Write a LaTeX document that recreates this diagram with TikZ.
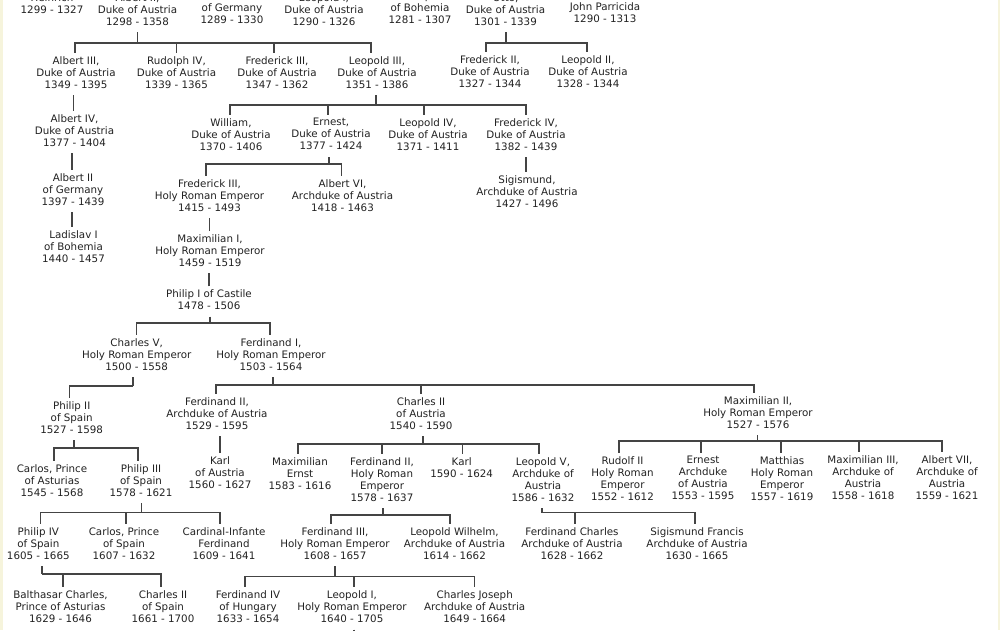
\documentclass[tikz,border=0pt]{standalone}
\usepackage{fontspec}
\setmainfont{DejaVu Sans}
\usepackage{xcolor}
\usepackage{tikz}
\definecolor{inkgray}{HTML}{222222}
\definecolor{linegray}{HTML}{444444}
\definecolor{edgecream}{HTML}{F6F4DC}

\begin{document}
\begin{tikzpicture}[x=1pt,y=-1pt,
  person/.style={align=center, font=\fontsize{10.3}{12}\selectfont, text=inkgray,
    inner xsep=0pt, inner ysep=0pt, outer ysep=3.5pt,
    execute at begin node=\strut, execute at end node=\strut},
  link/.style={draw=linegray, line width=1.1pt}]
\useasboundingbox (0,0) rectangle (1000,630);
\clip (0,0) rectangle (1000,630);
\fill[white] (0,0) rectangle (1000,630);
\fill[edgecream] (0,0) rectangle (2.5,630);
\fill[edgecream] (997.5,0) rectangle (1000,630);

% first generation (cut at the top)
\node[person] (heinrich) at (52,5) {Heinrich\\1299 - 1327};
\node[person] (albII) at (137.5,11) {Albert II,\\Duke of Austria\\1298 - 1358};
\node[person] (fredG) at (232,9) {Frederick I\\of Germany\\1289 - 1330};
\node[person] (leoI) at (324,11) {Leopold I,\\Duke of Austria\\1290 - 1326};
\node[person] (rudI) at (420,9) {Rudolph I\\of Bohemia\\1281 - 1307};
\node[person] (otto) at (505.5,11) {Otto,\\Duke of Austria\\1301 - 1339};
\node[person] (john) at (605,14) {John Parricida\\1290 - 1313};

% dukes
\node[person] (albIII) at (76,74) {Albert III,\\Duke of Austria\\1349 - 1395};
\node[person] (rudIV) at (176.5,74) {Rudolph IV,\\Duke of Austria\\1339 - 1365};
\node[person] (fredIII) at (277,74) {Frederick III,\\Duke of Austria\\1347 - 1362};
\node[person] (leoIII) at (377,74) {Leopold III,\\Duke of Austria\\1351 - 1386};
\node[person] (fredII) at (490,73) {Frederick II,\\Duke of Austria\\1327 - 1344};
\node[person] (leoII) at (588,73) {Leopold II,\\Duke of Austria\\1328 - 1344};
\node[person] (albIV) at (74.5,132) {Albert IV,\\Duke of Austria\\1377 - 1404};
\node[person] (william) at (231,136) {William,\\Duke of Austria\\1370 - 1406};
\node[person] (ernest) at (331,136) {Ernest,\\Duke of Austria\\1377 - 1424};
\node[person] (leoIV) at (428,136) {Leopold IV,\\Duke of Austria\\1371 - 1411};
\node[person] (fredIV) at (526,136) {Frederick IV,\\Duke of Austria\\1382 - 1439};
\node[person] (albIIG) at (73,191) {Albert II\\of Germany\\1397 - 1439};
\node[person] (ladislav) at (73.5,248) {Ladislav I\\of Bohemia\\1440 - 1457};
\node[person] (fredHRE) at (209.5,197) {Frederick III,\\Holy Roman Emperor\\1415 - 1493};
\node[person] (albVI) at (342.5,197) {Albert VI,\\Archduke of Austria\\1418 - 1463};
\node[person] (sigis) at (527,193) {Sigismund,\\Archduke of Austria\\1427 - 1496};
\node[person] (maxI) at (210,252) {Maximilian I,\\Holy Roman Emperor\\1459 - 1519};
\node[person] (philipI) at (209,301.5) {Philip I of Castile\\1478 - 1506};

% the two lines
\node[person] (charlesV) at (136.7,356) {Charles V,\\Holy Roman Emperor\\1500 - 1558};
\node[person] (ferdI) at (271,356) {Ferdinand I,\\Holy Roman Emperor\\1503 - 1564};
\node[person] (philipII) at (71.7,419) {Philip II\\of Spain\\1527 - 1598};
\node[person] (ferdIIA) at (217,415) {Ferdinand II,\\Archduke of Austria\\1529 - 1595};
\node[person] (charlesII) at (421,415) {Charles II\\of Austria\\1540 - 1590};
\node[person] (maxII) at (758,414) {Maximilian II,\\Holy Roman Emperor\\1527 - 1576};
\node[person] (karlA) at (220,474) {Karl\\of Austria\\1560 - 1627};
\node[person] (carlosA) at (52,482) {Carlos, Prince\\of Asturias\\1545 - 1568};
\node[person] (philipIII) at (141,482) {Philip III\\of Spain\\1578 - 1621};
\node[person] (maxE) at (300,475) {Maximilian\\Ernst\\1583 - 1616};
\node[person] (ferdIIH) at (382,481) {Ferdinand II,\\Holy Roman\\Emperor\\1578 - 1637};
\node[person] (karl) at (461.7,469.5) {Karl\\1590 - 1624};
\node[person] (leoV) at (543,481) {Leopold V,\\Archduke of\\Austria\\1586 - 1632};
\node[person] (rudII) at (622.5,480) {Rudolf II\\Holy Roman\\Emperor\\1552 - 1612};
\node[person] (ernestA) at (703,480) {Ernest\\Archduke\\of Austria\\1553 - 1595};
\node[person] (matthias) at (782,480) {Matthias\\Holy Roman\\Emperor\\1557 - 1619};
\node[person] (maxIII) at (863,479) {Maximilian III,\\Archduke of\\Austria\\1558 - 1618};
\node[person] (albVII) at (947,479) {Albert VII,\\Archduke of\\Austria\\1559 - 1621};
\node[person] (philipIV) at (38.3,545) {Philip IV\\of Spain\\1605 - 1665};
\node[person] (carlosS) at (124,545) {Carlos, Prince\\of Spain\\1607 - 1632};
\node[person] (cardinal) at (224,545) {Cardinal-Infante\\Ferdinand\\1609 - 1641};
\node[person] (ferdIII) at (335,545) {Ferdinand III,\\Holy Roman Emperor\\1608 - 1657};
\node[person] (leoW) at (454.5,545) {Leopold Wilhelm,\\Archduke of Austria\\1614 - 1662};
\node[person] (ferdC) at (572,545) {Ferdinand Charles\\Archduke of Austria\\1628 - 1662};
\node[person] (sigF) at (697,545) {Sigismund Francis\\Archduke of Austria\\1630 - 1665};
\node[person] (balthasar) at (60.5,608.5) {Balthasar Charles,\\Prince of Asturias\\1629 - 1646};
\node[person] (charlesIIS) at (163,608.5) {Charles II\\of Spain\\1661 - 1700};
\node[person] (ferdIV) at (248,608.5) {Ferdinand IV\\of Hungary\\1633 - 1654};
\node[person] (leoI2) at (352,608.5) {Leopold I,\\Holy Roman Emperor\\1640 - 1705};
\node[person] (charlesJ) at (474.7,608.5) {Charles Joseph\\Archduke of Austria\\1649 - 1664};

% junctions of the sibling bars
\coordinate (jAlbII) at (137.5,43);
\coordinate (jOtto) at (506,43);
\coordinate (jLeoIII) at (376,105);
\coordinate (jErnest) at (329,164);
\coordinate (jPhilipI) at (210,323);
\coordinate (jCharlesV) at (133,386);
\coordinate (jFerdI) at (273,385);
\coordinate (jPhilipII) at (74,448);
\coordinate (jCharlesII) at (423,444);
\coordinate (jMaxII) at (757.7,441);
\coordinate (jPhilipIII) at (141.7,512.7);
\coordinate (jFerdIIH) at (383,515);
\coordinate (jLeoV) at (542,512.7);
\coordinate (jPhilipIV) at (42,574);
\coordinate (jFerdIII) at (335,576.7);
\coordinate (leoIend) at (354,633);

\foreach \p/\j in {albII/jAlbII,otto/jOtto,leoIII/jLeoIII,ernest/jErnest,
    philipI/jPhilipI,charlesV/jCharlesV,ferdI/jFerdI,philipII/jPhilipII,
    charlesII/jCharlesII,maxII/jMaxII,philipIII/jPhilipIII,ferdIIH/jFerdIIH,
    leoV/jLeoV,philipIV/jPhilipIV,ferdIII/jFerdIII,leoI2/leoIend} {
    \draw[link] (\j |- \p.south) -- (\j);
}

\foreach \c/\dx in {albIII/-1,rudIV/0,fredIII/-3,leoIII/-6}
    \draw[link] (jAlbII) -| ([xshift=\dx pt]\c.north);
\foreach \c/\dx in {fredII/-4,leoII/-1}
    \draw[link] (jOtto) -| ([xshift=\dx pt]\c.north);
\foreach \c/\dx in {william/-1,ernest/-3,leoIV/-4,fredIV/0}
    \draw[link] (jLeoIII) -| ([xshift=\dx pt]\c.north);
\foreach \c/\dx in {fredHRE/-3.5,albVI/-1}
    \draw[link] (jErnest) -| ([xshift=\dx pt]\c.north);
\foreach \c/\dx in {charlesV/0,ferdI/-1}
    \draw[link] (jPhilipI) -| ([xshift=\dx pt]\c.north);
\draw[link] (jCharlesV) -| ([xshift=-2pt]philipII.north);
\foreach \c/\dx in {ferdIIA/-1,charlesII/0,maxII/-4}
    \draw[link] (jFerdI) -| ([xshift=\dx pt]\c.north);
\foreach \c/\dx in {carlosA/2,philipIII/-3}
    \draw[link] (jPhilipII) -| ([xshift=\dx pt]\c.north);
\foreach \c/\dx in {maxE/-2,ferdIIH/0,karl/1,leoV/-4}
    \draw[link] (jCharlesII) -| ([xshift=\dx pt]\c.north);
\foreach \c/\dx in {rudII/-3.5,ernestA/-2,matthias/-1,maxIII/-4,albVII/-5}
    \draw[link] (jMaxII) -| ([xshift=\dx pt]\c.north);
\foreach \c/\dx in {philipIV/2,carlosS/2,cardinal/-4}
    \draw[link] (jPhilipIII) -| ([xshift=\dx pt]\c.north);
\foreach \c/\dx in {ferdIII/-4,leoW/-4.5}
    \draw[link] (jFerdIIH) -| ([xshift=\dx pt]\c.north);
\foreach \c/\dx in {ferdC/3,sigF/-2}
    \draw[link] (jLeoV) -| ([xshift=\dx pt]\c.north);
\foreach \c/\dx in {balthasar/2.5,charlesIIS/-2}
    \draw[link] (jPhilipIV) -| ([xshift=\dx pt]\c.north);
\foreach \c/\dx in {ferdIV/-3,leoI2/2,charlesJ/0}
    \draw[link] (jFerdIII) -| ([xshift=\dx pt]\c.north);

% single heirs
\draw[link] ([xshift=-1pt]albIV.north) -- ([xshift=-1pt]albIV.north |- albIII.south);
\draw[link] ([xshift=-1pt]albIIG.north) -- ([xshift=-1pt]albIIG.north |- albIV.south);
\draw[link] ([xshift=-1.5pt]ladislav.north) -- ([xshift=-1.5pt]ladislav.north |- albIIG.south);
\draw[link] ([xshift=-1pt]sigis.north) -- ([xshift=-1pt]sigis.north |- fredIV.south);
\draw[link] ([xshift=-0.5pt]maxI.north) -- ([xshift=-0.5pt]maxI.north |- fredHRE.south);
\draw[link] (philipI.north) -- (philipI.north |- maxI.south);
\draw[link] (karlA.north) -- (karlA.north |- ferdIIA.south);
\end{tikzpicture}
\end{document}
